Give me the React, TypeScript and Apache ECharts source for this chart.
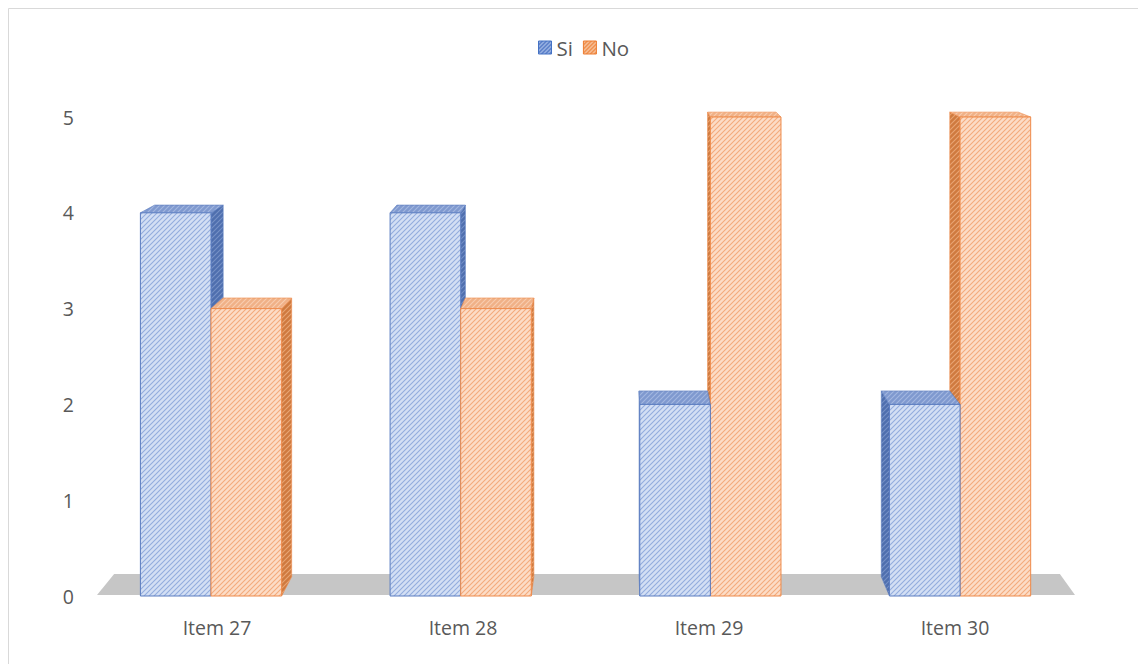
import React, { useEffect, useRef } from "react";
import * as echarts from "echarts";

const categories = ["Item 27", "Item 28", "Item 29", "Item 30"];
const siValues = [4, 4, 2, 2];
const noValues = [3, 3, 5, 5];
const yTicks = { min: 0, max: 5, interval: 1 };

// perspective helpers (styling only)
const VP = { x: 617, y: -45 };
const BAR_DEPTH = 0.03;
const FLOOR_DEPTH = 0.033;
const FRONT_SHIFT = 0.015;

function toBack(p: number[], t: number) {
  return [p[0] + t * (VP.x - p[0]), p[1] + t * (VP.y - p[1])];
}

function makePattern(bg: string, fg: string, size = 5) {
  const c = document.createElement("canvas");
  c.width = size;
  c.height = size;
  const ctx = c.getContext("2d")!;
  ctx.fillStyle = bg;
  ctx.fillRect(0, 0, size, size);
  ctx.strokeStyle = fg;
  ctx.lineWidth = 1.1;
  ctx.beginPath();
  ctx.moveTo(-1, size + 1);
  ctx.lineTo(size + 1, -1);
  ctx.moveTo(-1, 1);
  ctx.lineTo(1, -1);
  ctx.moveTo(size - 1, size + 1);
  ctx.lineTo(size + 1, size - 1);
  ctx.stroke();
  return { image: c, repeat: "repeat" as const, imageWidth: size, imageHeight: size };
}

export default function App() {
  const ref = useRef<HTMLDivElement>(null);
  useEffect(() => {
    if (!ref.current) return;
    const chart = echarts.init(ref.current, undefined, { renderer: "svg" });

    const pal = [
      {
        front: makePattern("#d3dff4", "#93acdd"),
        side: makePattern("#4f6fae", "#7691c6"),
        top: makePattern("#7f99cf", "#a3b7e0"),
        stroke: "#5a7cc0",
        legend: makePattern("#9db5e3", "#3e68bd", 4),
        legendBorder: "#4472c4",
      },
      {
        front: makePattern("#fcdcc6", "#f3aa7c"),
        side: makePattern("#cf7a3f", "#e8a574"),
        top: makePattern("#f0b187", "#f8cdb0"),
        stroke: "#ee8a4a",
        legend: makePattern("#f7c29c", "#ed7d31", 4),
        legendBorder: "#ed7d31",
      },
    ];

    const barRender = (s: number) => (params: any, api: any) => {
      const ci = api.value(0);
      const val = api.value(1);
      const top = api.coord([ci, val]);
      const base = api.coord([ci, 0]);
      const band = api.size([1, 0])[0];
      const w = band * 0.287;
      const center = top[0] + (top[0] - VP.x) * FRONT_SHIFT;
      const x0 = s === 0 ? center - w : center;
      const x1 = x0 + w;
      const yT = top[1];
      const yB = base[1];
      const cx = (x0 + x1) / 2;
      const rightOfV = top[0] > VP.x;
      const z = (s === 0) === rightOfV ? 20 : 10;
      const p = pal[s];
      const sx = cx < VP.x ? x1 : x0;
      const side = [[sx, yT], [sx, yB], toBack([sx, yB], BAR_DEPTH), toBack([sx, yT], BAR_DEPTH)];
      const topFace = [[x0, yT], [x1, yT], toBack([x1, yT], BAR_DEPTH), toBack([x0, yT], BAR_DEPTH)];
      return {
        type: "group",
        children: [
          {
            type: "polygon",
            z2: z,
            shape: { points: side },
            style: { fill: p.side, stroke: p.stroke, lineWidth: 0.6 },
          },
          {
            type: "polygon",
            z2: z + 1,
            shape: { points: topFace },
            style: { fill: p.top, stroke: p.stroke, lineWidth: 0.6 },
          },
          {
            type: "rect",
            z2: z + 2,
            shape: { x: x0, y: yT, width: w, height: yB - yT },
            style: { fill: p.front, stroke: p.stroke, lineWidth: 1 },
          },
        ],
      };
    };

    const floorRender = (params: any, api: any) => {
      const cs = params.coordSys;
      const y0 = api.coord([0, 0])[1] - 1;
      const l = [cs.x + 3, y0];
      const r = [cs.x + cs.width - 3, y0];
      return {
        type: "polygon",
        z2: 0,
        shape: { points: [l, r, toBack(r, FLOOR_DEPTH), toBack(l, FLOOR_DEPTH)] },
        style: { fill: "#c6c6c6" },
      };
    };

    const textColor = "#595959";
    const font = "'Open Sans', 'Noto Sans', sans-serif";

    chart.setOption({
      animation: false,
      backgroundColor: "#ffffff",
      textStyle: { fontFamily: font },
      graphic: [
        {
          type: "rect",
          silent: true,
          z: -10,
          shape: { x: 8.5, y: 8.5, width: 1300, height: 800 },
          style: { fill: "none", stroke: "#d9d9d9", lineWidth: 1 },
        },
      ],
      legend: {
        top: 32,
        left: 533,
        icon: "rect",
        itemWidth: 13,
        itemHeight: 13,
        itemGap: 10,
        textStyle: { color: textColor, fontSize: 20.5, fontFamily: font },
        data: [
          { name: "Si", itemStyle: { color: pal[0].legend, borderColor: pal[0].legendBorder, borderWidth: 1 } },
          { name: "No", itemStyle: { color: pal[1].legend, borderColor: pal[1].legendBorder, borderWidth: 1 } },
        ],
      },
      grid: { left: 94, right: 60, top: 117, bottom: 68 },
      xAxis: {
        type: "category",
        data: categories,
        axisLine: { show: false },
        axisTick: { show: false },
        axisLabel: { color: textColor, fontSize: 19.5, margin: 21, fontFamily: font },
      },
      yAxis: {
        type: "value",
        min: yTicks.min,
        max: yTicks.max,
        interval: yTicks.interval,
        axisLine: { show: false },
        axisTick: { show: false },
        splitLine: { show: false },
        axisLabel: { color: textColor, fontSize: 19.5, margin: 20, fontFamily: font },
      },
      series: [
        {
          name: "floor",
          type: "custom",
          renderItem: floorRender,
          data: [[0, 0]],
          encode: { x: 0, y: 1 },
          silent: true,
        },
        {
          name: "Si",
          type: "custom",
          renderItem: barRender(0),
          itemStyle: { color: pal[0].legend },
          data: siValues.map((v, i) => [i, v]),
          encode: { x: 0, y: 1 },
        },
        {
          name: "No",
          type: "custom",
          renderItem: barRender(1),
          itemStyle: { color: pal[1].legend },
          data: noValues.map((v, i) => [i, v]),
          encode: { x: 0, y: 1 },
        },
      ],
    });
    return () => chart.dispose();
  }, []);
  return (
    <div
      ref={ref}
      style={{ position: "absolute", left: 0, top: 0, width: 1138, height: 664 }}
    />
  );
}
